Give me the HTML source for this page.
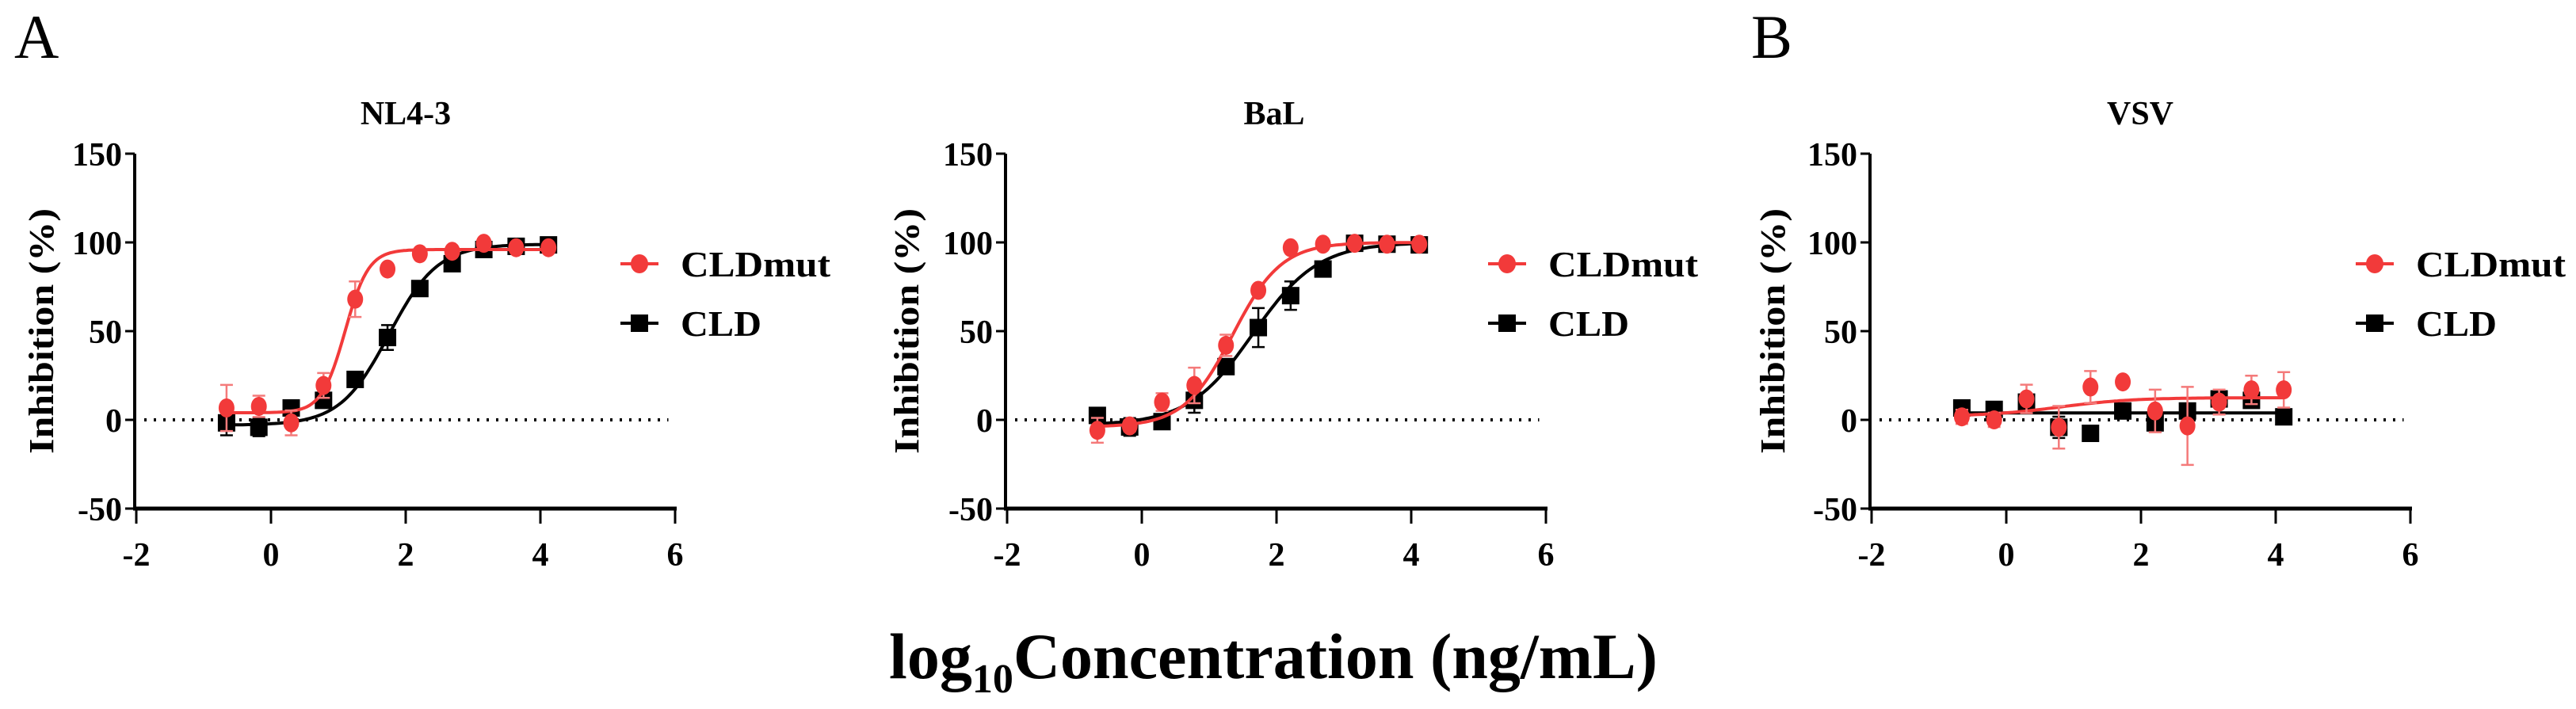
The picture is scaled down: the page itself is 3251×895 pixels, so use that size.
<!DOCTYPE html>
<html><head><meta charset="utf-8">
<style>
html,body{margin:0;padding:0;background:#fff;}
svg{display:block;}
text{font-family:"Liberation Serif",serif;}
</style></head>
<body>
<svg id="fig" width="3251" height="895" viewBox="0 0 3251 895" xmlns="http://www.w3.org/2000/svg" font-family="Liberation Serif, serif">
<text x="18" y="73" font-size="78" font-family="Liberation Serif, serif">A</text>
<text x="2210" y="73" font-size="78" font-family="Liberation Serif, serif">B</text>
<text x="1607" y="856" font-size="82" font-weight="bold" text-anchor="middle" font-family="Liberation Serif, serif">log<tspan font-size="52" dy="18">10</tspan><tspan dy="-18">Concentration (ng/mL)</tspan></text>
<g id="panels"></g>
</svg>
<script>
// shared x values (log10 concentration)
const xVals = [-0.66,-0.18,0.30,0.78,1.25,1.73,2.21,2.69,3.16,3.64,4.12];
const xTicks = [-2,0,2,4,6];
const yTicks = [-50,0,50,100,150];
const panelTitles = ["NL4-3","BaL","VSV"];
const seriesNames = ["CLDmut","CLD"];

// NL4-3
const nlMut = [6.7,7.6,-1.7,19.4,68,85,93.6,95,99.5,97,97];
const nlMutErr = [13,6,7,7,10,2,2,2,2,2,2];
const nlCld = [-1.7,-4.2,6.7,11,22.8,46.4,74,88,96,97.8,98.6];
const nlCldErr = [7,5,2,3,2,7,2,2,2,2,2];
// BaL
const balMut = [-5.9,-3.4,10,19.4,42,73,97,99,99.5,99,99];
const balMutErr = [7,3,5,10,6,2,2,2,2,2,2];
const balCld = [2.5,-4,-1,11,30,52,70,85,99.5,99,98.6];
const balCldErr = [2,5,2,7,3,11,8,2,2,2,2];
// VSV
const vsvMut = [1.7,0,11.8,-4.2,18.5,21.4,5,-3.4,10,16.9,16.9];
const vsvMutErr = [4,4,8,12,9,2,12,22,7,8,10];
const vsvCld = [6.7,5.9,10,-4.2,-7.6,5,-1.7,5,11.8,11,1.7];
const vsvCldErr = [2,2,2,6,2,3,5,2,2,2,2];

// 4PL fit parameters [bottom, top, logEC50, hill]
const fitNlMut = [4,96,1.1,2.5];
const fitNlCld = [-3,99,1.75,1.2];
const fitBalMut = [-4,100,1.35,1.2];
const fitBalCld = [-3,100,1.65,0.9];
const fitVsvMut = [2,12.5,0.8,0.8];
const fitVsvCld = [3.9,3.9,1,1];

const RED = "#f23a3a", RED_ERR = "#f47a7a", BLK = "#000";
const FONT = "Liberation Serif, serif";
const NS = "http://www.w3.org/2000/svg";
const root = document.getElementById("panels");
function mk(tag, attrs, parent){
  const e = document.createElementNS(NS, tag);
  for (const k in attrs) e.setAttribute(k, attrs[k]);
  if (tag === "text") e.setAttribute("font-family", FONT);
  (parent||root).appendChild(e);
  return e;
}
const panels = [
  {ax:170, title:panelTitles[0], tx:512, ytx:53, lx:807, data:[[nlMut,nlMutErr,fitNlMut],[nlCld,nlCldErr,fitNlCld]]},
  {ax:1269, title:panelTitles[1], tx:1608, ytx:1145, lx:1902, data:[[balMut,balMutErr,fitBalMut],[balCld,balCldErr,fitBalCld]]},
  {ax:2360, title:panelTitles[2], tx:2701, ytx:2238, lx:2997, data:[[vsvMut,vsvMutErr,fitVsvMut],[vsvCld,vsvCldErr,fitVsvCld]]}
];
const yTop = 194, yBot = 642;
panels.forEach((p, pi) => {
  const g = mk("g", {});
  
  
  const x0 = p.ax + 2, xw = 680;
  const X = v => x0 + (v + 2) / 8 * xw;
  const Y = v => yBot - (v + 50) / 200 * (yBot - yTop);
  const t = mk("text", {x:p.tx, y:157, "font-size":42, "font-weight":"bold", "text-anchor":"middle"}, g);
  t.textContent = p.title;
  
  
  const yt = mk("text", {x:0, y:0, "font-size":44, "font-weight":"bold", "text-anchor":"middle", textLength:310, lengthAdjust:"spacingAndGlyphs", transform:`translate(${p.ytx+14},${Y(50)}) rotate(-90)`}, g);
  yt.textContent = "Inhibition (%)";
  
  
  const ya = mk("line", {x1:p.ax, y1:Y(150), x2:p.ax, y2:yBot+2, stroke:BLK, "stroke-width":4}, g);
  
  
  const xa = mk("line", {x1:p.ax-2, y1:yBot, x2:X(6)+2, y2:yBot, stroke:BLK, "stroke-width":5}, g);
  
  
  yTicks.forEach(v => {
    mk("line", {x1:p.ax-12, y1:Y(v), x2:p.ax, y2:Y(v), stroke:BLK, "stroke-width":3}, g);
    const tl = mk("text", {x:p.ax-16, y:Y(v)+15, "font-size":42, "font-weight":"bold", "text-anchor":"end"}, g);
    tl.textContent = String(v);
    
    
  });
  xTicks.forEach(v => {
    mk("line", {x1:X(v), y1:yBot, x2:X(v), y2:yBot+19, stroke:BLK, "stroke-width":3}, g);
    const tl = mk("text", {x:X(v), y:714, "font-size":42, "font-weight":"bold", "text-anchor":"middle"}, g);
    tl.textContent = String(v);
    
    
  });
  const zl = mk("line", {x1:p.ax+12, y1:Y(0), x2:X(5.9), y2:Y(0), stroke:BLK, "stroke-width":4, "stroke-dasharray":"3,9"}, g);
  
  
  [1,0].forEach(si => {
    const [vals, errs, fit] = p.data[si];
    const col = si === 0 ? RED : BLK, ecol = si === 0 ? RED_ERR : BLK;
    const sg = mk("g", {}, g);
    
    
    let d = "";
    const xa0 = xVals[0], xa1 = xVals[xVals.length-1];
    for (let i = 0; i <= 120; i++) {
      const xv = xa0 + (xa1 - xa0) * i / 120;
      const yv = fit[0] + (fit[1] - fit[0]) / (1 + Math.pow(10, (fit[2] - xv) * fit[3]));
      d += (i ? "L" : "M") + X(xv).toFixed(1) + "," + Y(yv).toFixed(1);
    }
    const fc = mk("path", {d:d, fill:"none", stroke:col, "stroke-width":4}, sg);
    
    
    xVals.forEach((xv, i) => {
      const cx = X(xv), cy = Y(vals[i]), e = errs[i];
      const eb = mk("path", {d:`M${cx},${Y(vals[i]+e)}V${Y(vals[i]-e)}M${cx-8},${Y(vals[i]+e)}h16M${cx-8},${Y(vals[i]-e)}h16`, stroke:ecol, "stroke-width":2.5, fill:"none"}, sg);
      
      
      let m;
      if (si === 0) m = mk("ellipse", {cx:cx, cy:cy, rx:10, ry:12, fill:col}, sg);
      else m = mk("rect", {x:cx-11, y:cy-11, width:22, height:22, fill:col}, sg);
      
      
    });
    const ly = si === 0 ? 333 : 408;
    const lg = mk("g", {}, g);
    
    
    mk("line", {x1:p.lx-24, y1:ly, x2:p.lx+24, y2:ly, stroke:col, "stroke-width":4}, lg);
    if (si === 0) mk("ellipse", {cx:p.lx, cy:ly, rx:11, ry:12, fill:col}, lg);
    else mk("rect", {x:p.lx-11, y:ly-11, width:22, height:22, fill:col}, lg);
    const lt = mk("text", {x:p.lx+52, y:ly+16, "font-size":46, "font-weight":"bold", textLength:(si===0?189:102), lengthAdjust:"spacingAndGlyphs"}, lg);
    lt.textContent = seriesNames[si];
  });
});
</script>
</body></html>
